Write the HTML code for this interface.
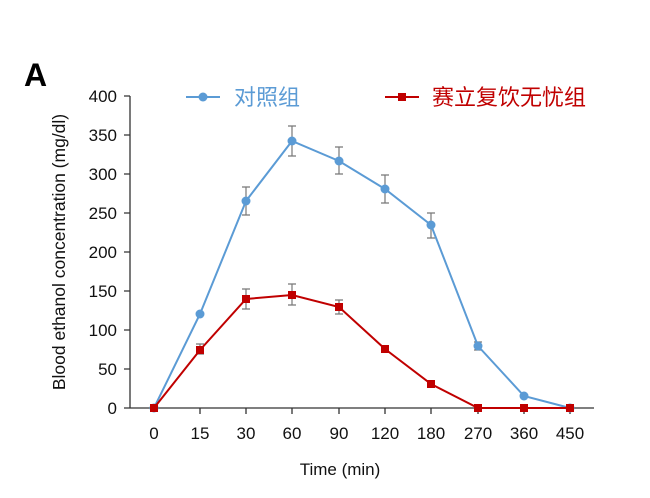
<!DOCTYPE html>
<html><head><meta charset="utf-8"><style>body{margin:0;background:#fff}svg{display:block}</style></head><body>
<svg width="650" height="498" xmlns="http://www.w3.org/2000/svg" font-family="Liberation Sans, Noto Sans CJK SC, sans-serif">
<text x="24" y="86" font-size="32" font-weight="bold" fill="#000">A</text>
<g stroke="#333" stroke-width="1.3" fill="none">
<line x1="130" y1="96" x2="130" y2="408"/>
<line x1="130" y1="408" x2="594" y2="408"/>
<path d="M124 96H130M124 135H130M124 174H130M124 213H130M124 252H130M124 291H130M124 330H130M124 369H130M124 408H130"/>
<path d="M200 408V414M246 408V414M292 408V414M339 408V414M385 408V414M431 408V414M478 408V414M524 408V414M570 408V414"/>
</g>
<g font-size="17" fill="#111" text-anchor="end">
<text x="117" y="102">400</text><text x="117" y="141">350</text><text x="117" y="180">300</text><text x="117" y="219">250</text><text x="117" y="258">200</text><text x="117" y="297">150</text><text x="117" y="336">100</text><text x="117" y="375">50</text><text x="117" y="414">0</text>
</g>
<g font-size="17" fill="#111" text-anchor="middle">
<text x="154" y="439">0</text><text x="200" y="439">15</text><text x="246" y="439">30</text><text x="292" y="439">60</text><text x="339" y="439">90</text><text x="385" y="439">120</text><text x="431" y="439">180</text><text x="478" y="439">270</text><text x="524" y="439">360</text><text x="570" y="439">450</text>
<text x="340" y="475">Time (min)</text>
<text transform="translate(65 252) rotate(-90)" font-size="17.5">Blood ethanol concentration (mg/dl)</text>
</g>
<g stroke="#777" stroke-width="1.2">
<path d="M246 187V215M242 187H250M242 215H250M292 126V156M288 126H296M288 156H296M339 147V174M335 147H343M335 174H343M385 175V203M381 175H389M381 203H389M431 213V238M427 213H435M427 238H435M478 342V350M474 342H482M474 350H482"/>
<path d="M200 344V354M196 344H204M196 354H204M246 289V309M242 289H250M242 309H250M292 284V305M288 284H296M288 305H296M339 300V314M335 300H343M335 314H343"/>
</g>
<polyline fill="none" stroke="#5b9bd5" stroke-width="2" points="154,408 200,314 246,201 292,141 339,161 385,189 431,225 478,346 524,396 570,408"/>
<g fill="#5b9bd5"><circle cx="154" cy="408" r="4.5"/><circle cx="200" cy="314" r="4.5"/><circle cx="246" cy="201" r="4.5"/><circle cx="292" cy="141" r="4.5"/><circle cx="339" cy="161" r="4.5"/><circle cx="385" cy="189" r="4.5"/><circle cx="431" cy="225" r="4.5"/><circle cx="478" cy="346" r="4.5"/><circle cx="524" cy="396" r="4.5"/><circle cx="570" cy="408" r="4.5"/></g>
<polyline fill="none" stroke="#c00000" stroke-width="2" points="154,408 200,350 246,299 292,295 339,307 385,349 431,384 478,408 524,408 570,408"/>
<g fill="#c00000"><rect x="150" y="404" width="8" height="8"/><rect x="196" y="346" width="8" height="8"/><rect x="242" y="295" width="8" height="8"/><rect x="288" y="291" width="8" height="8"/><rect x="335" y="303" width="8" height="8"/><rect x="381" y="345" width="8" height="8"/><rect x="427" y="380" width="8" height="8"/><rect x="474" y="404" width="8" height="8"/><rect x="520" y="404" width="8" height="8"/><rect x="566" y="404" width="8" height="8"/></g>
<line x1="186" y1="97" x2="220" y2="97" stroke="#5b9bd5" stroke-width="2"/><circle cx="203" cy="97" r="4.5" fill="#5b9bd5"/>
<text x="234" y="105" font-size="22" fill="#5b9bd5">对照组</text>
<line x1="385" y1="97" x2="419" y2="97" stroke="#c00000" stroke-width="2"/><rect x="398" y="93" width="8" height="8" fill="#c00000"/>
<text x="432" y="105" font-size="22" fill="#c00000">赛立复饮无忧组</text>
</svg>
</body></html>
